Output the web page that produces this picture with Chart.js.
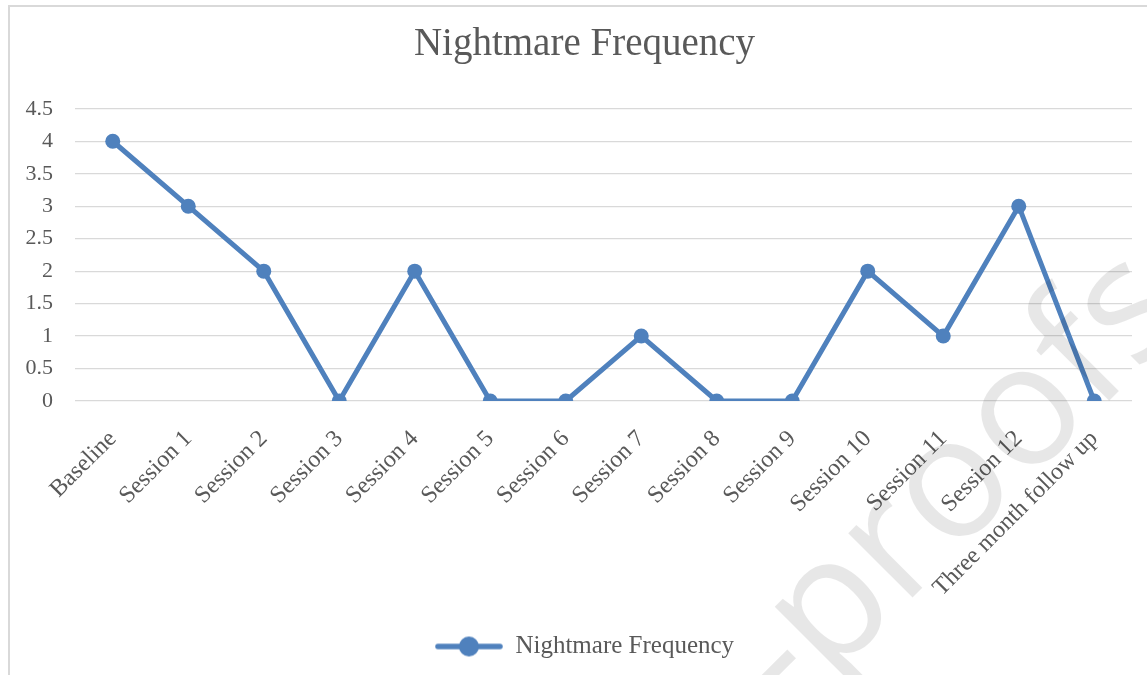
<!DOCTYPE html>
<html>
<head>
<meta charset="utf-8">
<script src="https://cdn.jsdelivr.net/npm/chart.js@4.4.1/dist/chart.umd.min.js"></script>
<style>
  html, body { margin: 0; padding: 0; background: #fff; overflow: hidden; }
  canvas { display: block; }
</style>
</head>
<body>
<canvas id="myChart" width="1147" height="675"></canvas>
<script>
const categories = ['Baseline', 'Session 1', 'Session 2', 'Session 3', 'Session 4', 'Session 5', 'Session 6',
  'Session 7', 'Session 8', 'Session 9', 'Session 10', 'Session 11', 'Session 12', 'Three month follow up'];
const nightmareFrequency = [4, 3, 2, 0, 2, 0, 0, 1, 0, 0, 2, 1, 3, 0];
const yMin = 0;
const yMax = 4.5;
const yStep = 0.5;

const blue = '#4f81bd';
const textGrey = '#595959';
const serif = '"Liberation Serif", "Times New Roman", serif';

// legend icon: short line with a dot in the middle
const icon = document.createElement('canvas');
icon.width = 68;
icon.height = 24;
const ic = icon.getContext('2d');
ic.strokeStyle = blue;
ic.lineWidth = 5.5;
ic.lineCap = 'round';
ic.beginPath();
ic.moveTo(3, 12);
ic.lineTo(65, 12);
ic.stroke();
ic.fillStyle = blue;
ic.beginPath();
ic.arc(34, 12, 10, 0, Math.PI * 2);
ic.fill();

const frame = {
  id: 'frame',
  beforeDraw(chart) {
    const c = chart.ctx;
    c.save();
    c.fillStyle = '#fff';
    c.fillRect(0, 0, chart.width, chart.height);
    c.strokeStyle = '#d9d9d9';
    c.lineWidth = 2;
    c.strokeRect(9, 6, chart.width + 20, chart.height + 20);
    c.restore();
  }
};

const watermark = {
  id: 'watermark',
  afterDraw(chart) {
    const c = chart.ctx;
    const size = 170;
    c.save();
    c.font = size + 'px "Open Sans", sans-serif';
    c.textAlign = 'left';
    c.textBaseline = 'alphabetic';
    c.fillStyle = 'rgba(0,0,0,0.095)';
    const pre = c.measureText('-pr').width;
    const ow = c.measureText('o').width;
    c.translate(955, 490);
    c.rotate(-Math.PI / 4);
    c.fillText('-proofs', -(pre + ow / 2), size * 0.27);
    c.restore();
  }
};

new Chart(document.getElementById('myChart'), {
  type: 'line',
  data: {
    labels: categories,
    datasets: [{
      label: 'Nightmare Frequency',
      data: nightmareFrequency,
      borderColor: blue,
      backgroundColor: blue,
      borderWidth: 5,
      pointRadius: 7.5,
      pointHoverRadius: 7.5,
      pointBackgroundColor: blue,
      pointBorderWidth: 0,
      tension: 0
    }]
  },
  options: {
    responsive: false,
    animation: false,
    layout: { padding: { left: 10, top: 6, right: -12, bottom: 6 } },
    plugins: {
      title: {
        display: true,
        text: 'Nightmare Frequency',
        color: textGrey,
        font: { family: serif, size: 39, weight: 'normal' },
        padding: { top: 15, bottom: 41 }
      },
      legend: {
        position: 'bottom',
        labels: {
          usePointStyle: true,
          pointStyle: icon,
          pointStyleWidth: 68,
          color: textGrey,
          font: { family: serif, size: 25 }
        }
      },
      tooltip: { enabled: false }
    },
    scales: {
      x: {
        offset: true,
        grid: { display: false },
        border: { display: false },
        ticks: {
          color: textGrey,
          font: { family: serif, size: 24 },
          minRotation: 45,
          maxRotation: 45,
          padding: 16
        },
        afterFit(scale) { scale.height = 223; }
      },
      y: {
        min: yMin,
        max: yMax,
        grid: { color: '#d9d9d9', lineWidth: 1.2, drawTicks: false },
        border: { display: false },
        ticks: {
          stepSize: yStep,
          color: textGrey,
          font: { family: serif, size: 22 },
          padding: 22,
          callback: (v) => String(v)
        },
        afterFit(scale) { scale.width = 65; }
      },
      // empty spacer on the right so the title and legend centre like the original
      yRight: {
        position: 'right',
        min: 0,
        max: 1,
        grid: { display: false },
        border: { display: false },
        ticks: { display: false },
        afterFit(scale) { scale.width = 27; }
      }
    }
  },
  plugins: [frame, watermark]
});
</script>
</body>
</html>
